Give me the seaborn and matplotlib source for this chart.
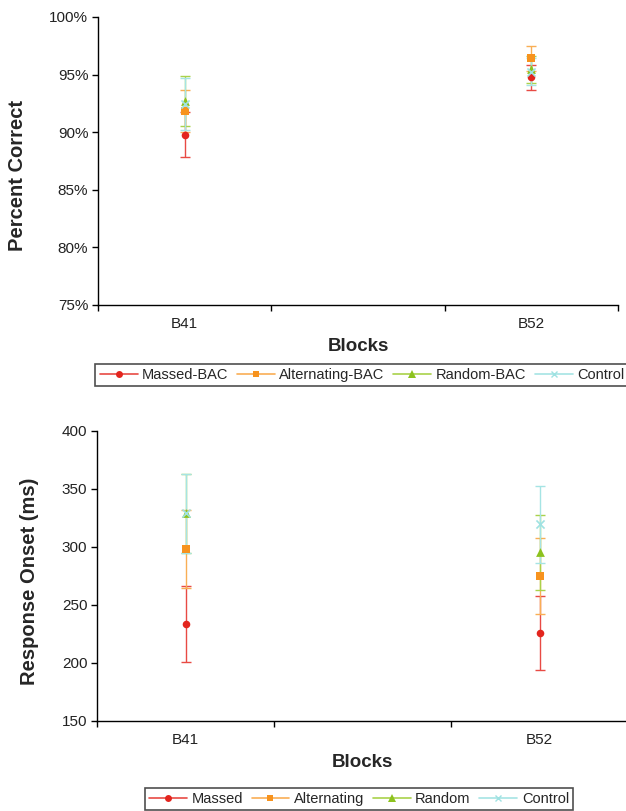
import matplotlib
matplotlib.use("Agg")
import matplotlib.pyplot as plt
from matplotlib.lines import Line2D
from matplotlib.ticker import FixedLocator, NullFormatter, FuncFormatter
import seaborn as sns
import pandas as pd

sns.set_style("white")
plt.rcParams['font.family'] = ['Liberation Sans', 'DejaVu Sans']

categories = ["B41", "", "B52"]
blocks = ["B41", "B52"]

# Top panel: percent correct
top_series = ["Massed-BAC", "Alternating-BAC", "Random-BAC", "Control"]
top_massed = [89.8, 94.77]
top_massed_err = [1.95, 1.1]
top_alternating = [91.85, 96.41]
top_alternating_err = [1.8, 1.1]
top_random = [92.7, 95.46]
top_random_err = [2.2, 1.15]
top_control = [92.45, 95.25]
top_control_err = [2.25, 1.15]

# Bottom panel: response onset (ms)
bot_series = ["Massed", "Alternating", "Random", "Control"]
bot_massed = [233.5, 226.0]
bot_massed_err = [32.5, 32.0]
bot_alternating = [298.0, 275.0]
bot_alternating_err = [33.5, 32.5]
bot_random = [329.0, 295.5]
bot_random_err = [34.0, 32.5]
bot_control = [329.0, 319.5]
bot_control_err = [34.0, 33.5]

marker_colors = ["#E3251E", "#F7931E", "#8DC21F", "#9FE2E2"]
bar_colors = ["#E84A44", "#F9AE55", "#A9D24A", "#A5E4E4"]
markers = ["o", "s", "^", "x"]
mk_sizes = [30, 32, 40, 34]

fig = plt.figure(figsize=(6.26, 8.11), dpi=100)


def build(ax, names, vals, errs, ylim, yticks, yfmt, ylabel, label_xy, legend_box):
    pos = {"B41": 0, "B52": 2}
    rows = []
    for n, v in zip(names, vals):
        for b, val in zip(blocks, v):
            rows.append({"Blocks": pos[b], "value": val, "series": n})
    df = pd.DataFrame(rows)
    for i, (n, v, e) in enumerate(zip(names, vals, errs)):
        x = [pos[b] for b in blocks]
        ax.errorbar(x, v, yerr=e, fmt="none", ecolor=bar_colors[i], elinewidth=1.0,
                    capsize=3.6, capthick=1.0, zorder=2 + i)
    for i, n in enumerate(names):
        sub = df[df["series"] == n]
        m = markers[i]
        sns.scatterplot(data=sub, x="Blocks", y="value", ax=ax, marker=m,
                        color=marker_colors[i], s=mk_sizes[i],
                        linewidth=(1.2 if m == "x" else 0),
                        zorder=10 + i, legend=False)
    ax.set_xlim(-0.5, 2.5)
    ax.set_ylim(*ylim)
    ax.yaxis.set_major_locator(FixedLocator(yticks))
    ax.yaxis.set_major_formatter(FuncFormatter(yfmt))
    ax.xaxis.set_major_locator(FixedLocator([-0.5, 0.5, 1.5, 2.5]))
    ax.xaxis.set_major_formatter(NullFormatter())
    ax.xaxis.set_minor_locator(FixedLocator([0, 1, 2]))
    ax.set_xticklabels(categories, minor=True)
    ax.tick_params(axis="x", which="major", direction="out", length=4, width=1, bottom=True, color="black")
    ax.tick_params(axis="x", which="minor", length=0, pad=9, labelsize=11, labelcolor="#222222")
    ax.tick_params(axis="y", which="major", direction="out", length=4, width=1, left=True, color="black",
                   labelsize=11, labelcolor="#222222", pad=3)
    for s in ["top", "right"]:
        ax.spines[s].set_visible(False)
    for s in ["left", "bottom"]:
        ax.spines[s].set_color("black")
        ax.spines[s].set_linewidth(1.0)
    ax.set_xlabel("Blocks", fontsize=13.5, fontweight="bold", labelpad=5)
    ax.set_ylabel(ylabel, fontsize=14.5, fontweight="bold")
    ax.yaxis.set_label_coords(*label_xy)
    handles = [Line2D([0], [0], color=bar_colors[i], lw=1.2,
                      marker=markers[i],
                      markersize=5 if markers[i] != "^" else 6,
                      markerfacecolor=marker_colors[i], markeredgecolor=marker_colors[i],
                      markeredgewidth=(1.0 if markers[i] == "x" else 0))
               for i in range(len(names))]
    leg = fig.legend(handles, names, loc="center", bbox_to_anchor=legend_box, ncol=4,
                     frameon=True, fancybox=False, edgecolor="#222222", fontsize=10.5,
                     handlelength=2.6, handletextpad=0.3, columnspacing=0.6,
                     borderpad=0.3, borderaxespad=0)
    leg.get_frame().set_linewidth(1.2)
    return ax


ax1 = fig.add_axes([98 / 626, 1 - 305 / 811, 520 / 626, 288 / 811])
build(ax1, top_series,
      [top_massed, top_alternating, top_random, top_control],
      [top_massed_err, top_alternating_err, top_random_err, top_control_err],
      (75, 100), [75, 80, 85, 90, 95, 100], lambda v, p: f"{v:.0f}%",
      "Percent Correct", ((27 - 98) / 520, 0.45),
      (362 / 626, 1 - 375 / 811))

ax2 = fig.add_axes([97 / 626, 1 - 721 / 811, 531 / 626, 290 / 811])
build(ax2, bot_series,
      [bot_massed, bot_alternating, bot_random, bot_control],
      [bot_massed_err, bot_alternating_err, bot_random_err, bot_control_err],
      (150, 400), [150, 200, 250, 300, 350, 400], lambda v, p: f"{v:.0f}",
      "Response Onset (ms)", ((39 - 97) / 531, 0.483),
      (359 / 626, 1 - 799 / 811))

fig.savefig("out.png", dpi=100)
